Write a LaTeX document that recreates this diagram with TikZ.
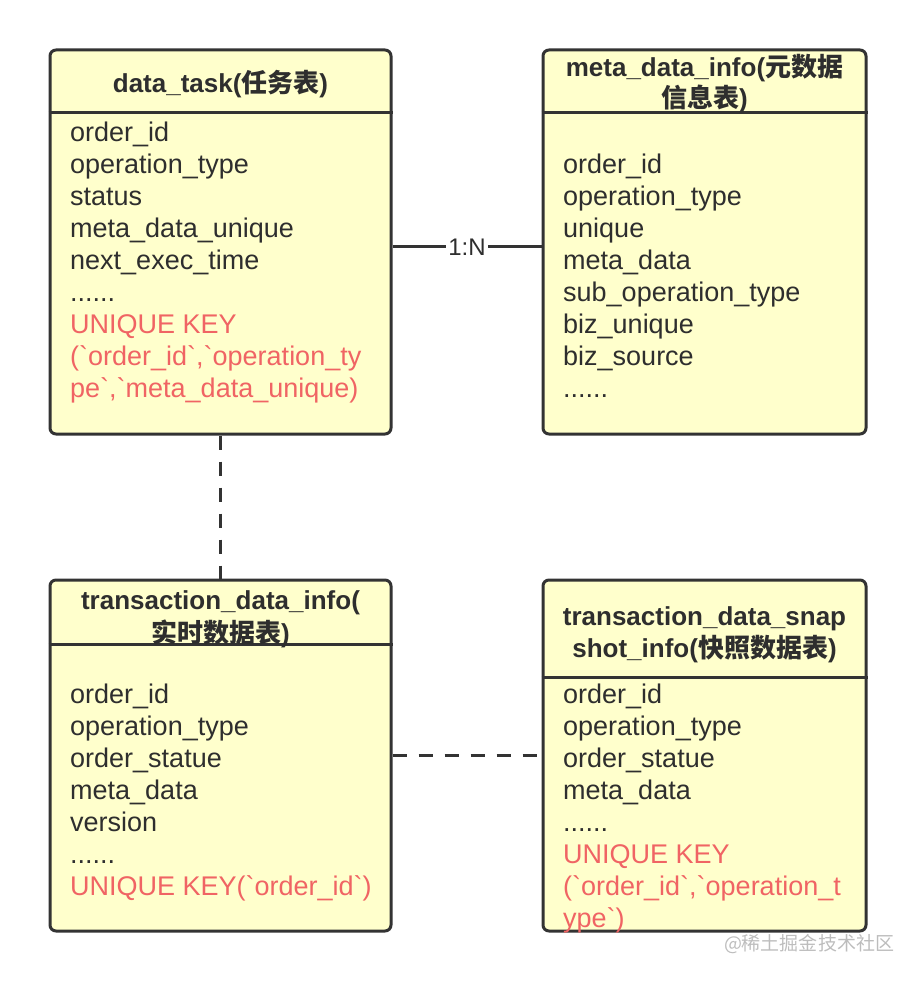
\documentclass[tikz,border=0pt]{standalone}
\usepackage{fontspec}
\setmainfont{Liberation Sans}[Ligatures=TeXOff]
\newfontfamily\cjk{Noto Sans CJK SC}
\usetikzlibrary{positioning}
\definecolor{boxfill}{HTML}{FFFFCC}
\definecolor{boxline}{HTML}{333333}
\definecolor{textc}{HTML}{2E2E2E}
\definecolor{keyred}{HTML}{F06464}
\definecolor{markgray}{HTML}{BDBDBD}
\newcommand\etcdots{......}
\tikzset{
	entity/.style={draw=boxline, fill=boxfill, line width=3pt, rounded corners=6pt, inner sep=0pt},
	sep/.style={draw=boxline, line width=3pt},
	head/.style={anchor=base, inner sep=0pt, text=textc, font=\fontsize{26}{32}\selectfont\bfseries},
	field/.style={anchor=base west, inner sep=0pt, text=textc, font=\fontsize{27}{32}\selectfont},
	link/.style={draw=boxline, line width=3pt},
	dashlink/.style={link, dash pattern=on 14pt off 12pt}
}

\begin{document}
\begin{tikzpicture}[x=1pt,y=-1pt]
	\useasboundingbox (0,0) rectangle (917,981);
	\node[entity, minimum width=341pt, minimum height=384pt] (task) at (220.5,242) {};
	\node[entity, minimum width=323pt, minimum height=384pt] (meta) at (704.5,242) {};
	\node[entity, minimum width=341pt, minimum height=351pt] (txn) at (220.5,755.5) {};
	\node[entity, minimum width=323pt, minimum height=351pt] (snap) at (704.5,755.5) {};
	\draw[sep] (task.west |- 0,113) -- (task.east |- 0,113);
	\draw[sep] (meta.west |- 0,113) -- (meta.east |- 0,113);
	\draw[sep] (txn.west |- 0,644) -- (txn.east |- 0,644);
	\draw[sep] (snap.west |- 0,677) -- (snap.east |- 0,677);

	\node[head] (taskh) at (220.5,93) {data\_task({\cjk 任务表})};
	\node[head] (metah) at (704.5,77) {meta\_data\_info({\cjk 元数据}};
	\node[head] (metah2) at (704.5,108) {{\cjk 信息表})};
	\node[head] (txnh) at (220.5,609) {transaction\_data\_info(};
	\node[head] (txnh2) at (220.5,642) {{\cjk 实时数据表})};
	\node[head] (snaph) at (704.5,625) {transaction\_data\_snap};
	\node[head] (snaph2) at (704.5,657) {shot\_info({\cjk 快照数据表})};

	\foreach \t [count=\i from 0] in {order\_id, operation\_type, status, meta\_data\_unique, next\_exec\_time, \etcdots,
		{\color{keyred}UNIQUE KEY}, {\color{keyred}(`order\_id`,`operation\_ty}, {\color{keyred}pe`,`meta\_data\_unique)}}
		\node[field] (taskf\i) at (70,141.5+32*\i) {\t};
	\foreach \t [count=\i from 0] in {order\_id, operation\_type, unique, meta\_data, sub\_operation\_type, biz\_unique, biz\_source, \etcdots}
		\node[field] (metaf\i) at (563,173.5+32*\i) {\t};
	\foreach \t [count=\i from 0] in {order\_id, operation\_type, order\_statue, meta\_data, version, \etcdots,
		{\color{keyred}UNIQUE KEY(`order\_id`)}}
		\node[field] (txnf\i) at (70,703+32*\i) {\t};
	\foreach \t [count=\i from 0] in {order\_id, operation\_type, order\_statue, meta\_data, \etcdots,
		{\color{keyred}UNIQUE KEY}, {\color{keyred}(`order\_id`,`operation\_t}, {\color{keyred}ype`)}}
		\node[field] (snapf\i) at (563,703+32*\i) {\t};

	\draw[link] ([yshift=-5pt]task.east) -- node[fill=white, inner sep=2pt, text=textc, font=\fontsize{24}{28}\selectfont] (card) {1:N} ([yshift=-5pt]meta.west);
	\draw[dashlink] (task.south) -- (txn.north);
	\draw[dashlink] (txn.east) -- (snap.west);

	\node[text=markgray, inner sep=0pt, font=\fontsize{19}{22}\selectfont] (mark) at (809,944) {{\cjk @稀土掘金技术社区}};
\end{tikzpicture}
\end{document}
